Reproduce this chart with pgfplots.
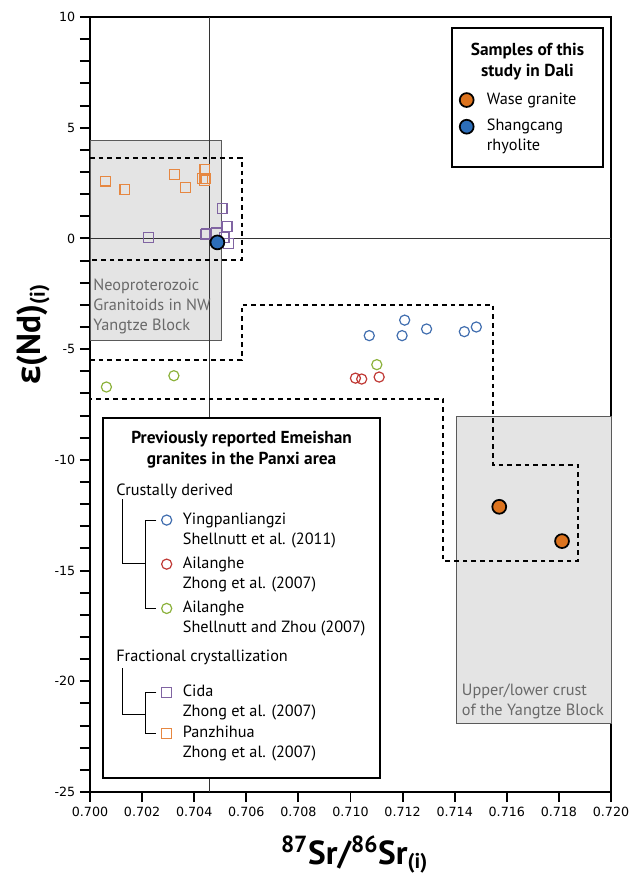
\documentclass[border=0pt]{standalone}
\usepackage{fontspec}
\setmainfont{PT Sans}
\newfontfamily\tickfont{DejaVu Sans}
\newfontfamily\grkfont{Open Sans}
\usepackage{pgfplots}
\pgfplotsset{compat=1.18}

\definecolor{cblue}{RGB}{65,110,175}
\definecolor{cred}{RGB}{192,57,53}
\definecolor{cgreen}{RGB}{140,178,60}
\definecolor{cpurple}{RGB}{128,100,162}
\definecolor{corange}{RGB}{230,135,65}
\definecolor{wase}{RGB}{220,115,30}
\definecolor{shang}{RGB}{45,110,185}
\definecolor{boxgray}{RGB}{228,228,228}
\definecolor{boxedge}{RGB}{90,90,90}
\definecolor{txtgray}{RGB}{105,105,105}

\newcommand{\lfont}{\fontsize{12.2}{15}\selectfont}
\newcommand{\bfont}{\bfseries\fontsize{13}{15.5}\selectfont}

\begin{document}
\begin{tikzpicture}
\begin{axis}[
  scale only axis, width=390.75pt, height=581.25pt,
  xmin=0.700, xmax=0.720, ymin=-25, ymax=10,
  xtick={0.700,0.702,0.704,0.706,0.708,0.710,0.712,0.714,0.716,0.718,0.720},
  xticklabels={0.700,0.702,0.704,0.706,0.708,0.710,0.712,0.714,0.716,0.718,0.720},
  ytick={-25,-20,-15,-10,-5,0,5,10},
  yticklabels={-25,-20,-15,-10,-5,0,5,10},
  minor y tick num=4,
  tick align=outside, xtick pos=bottom, ytick pos=left,
  major tick length=7.5pt, minor tick length=7.5pt,
  every tick/.style={black, line width=1.4pt},
  axis line style={line width=1.5pt},
  ticklabel style={font=\tickfont\fontsize{9.5}{10}\selectfont},
  xlabel={\bfseries\fontsize{25}{28}\selectfont\textsuperscript{87}Sr/\textsuperscript{86}Sr\raisebox{-0.25ex}{\fontsize{16}{16}\selectfont(i)}},
  ylabel={\bfseries\fontsize{25}{28}\selectfont{\grkfont ε}(Nd)\raisebox{-0.25ex}{\fontsize{16}{16}\selectfont(i)}},
  xlabel style={at={(axis description cs:0.507,-0.081)}, anchor=center},
  ylabel style={at={(axis description cs:-0.109,0.59)}, anchor=center, rotate=0},
  clip=false,
]
% grey fields
\addplot[fill=boxgray, draw=boxedge, line width=0.7pt] coordinates {(0.700,-4.59)(0.70505,-4.59)(0.70505,4.44)(0.700,4.44)} -- cycle;
\addplot[fill=boxgray, draw=boxedge, line width=0.7pt] coordinates {(0.71407,-21.9)(0.720,-21.9)(0.720,-8.02)(0.71407,-8.02)} -- cycle;
% reference lines
\addplot[draw=black!80, line width=0.75pt] coordinates {(0.70457,-25)(0.70457,10)};
\addplot[draw=black!80, line width=0.75pt] coordinates {(0.700,0)(0.720,0)};
% dashed fields
\addplot[black, line width=1.4pt, dash pattern=on 3.5pt off 3pt] coordinates {(0.700,3.65)(0.70582,3.65)(0.70582,-0.98)(0.700,-0.98)};
\addplot[black, line width=1.4pt, dash pattern=on 3.5pt off 3pt] coordinates {(0.700,-5.5)(0.70582,-5.5)(0.70582,-3.0)(0.71548,-3.0)(0.71548,-10.23)(0.71873,-10.23)(0.71873,-14.57)(0.71356,-14.57)(0.71356,-7.25)(0.700,-7.25)};
% field labels
\node[anchor=west, align=left, text=txtgray, font=\lfont, inner sep=0pt] at (axis cs:0.70012,-3.08) {Neoproterozoic\\Granitoids in NW\\Yangtze Block};
\node[anchor=west, align=left, text=txtgray, font=\lfont, inner sep=0pt] at (axis cs:0.71427,-20.91) {Upper/lower crust\\of the Yangtze Block};
% data
\addplot[only marks, mark=square, mark size=3.7pt, color=corange, mark options={line width=0.9pt}] coordinates {(0.70060,2.59)(0.70134,2.20)(0.70324,2.90)(0.70367,2.29)(0.70441,3.10)(0.70431,2.72)(0.70440,2.61)(0.70445,2.70)};
\addplot[only marks, mark=square, mark size=3.7pt, color=cpurple, mark options={line width=0.9pt}] coordinates {(0.70224,0.03)(0.70507,1.36)(0.70526,0.55)(0.70448,0.20)(0.70442,0.18)(0.70486,0.25)(0.70515,0.05)(0.70531,-0.22)};
\addplot[only marks, mark=o, mark size=3.8pt, color=cblue, mark options={line width=0.9pt}] coordinates {(0.71072,-4.39)(0.71208,-3.69)(0.71198,-4.39)(0.71292,-4.09)(0.71437,-4.21)(0.71483,-4.00)};
\addplot[only marks, mark=o, mark size=3.8pt, color=cred, mark options={line width=0.9pt}] coordinates {(0.71019,-6.31)(0.71043,-6.35)(0.71110,-6.26)};
\addplot[only marks, mark=o, mark size=3.8pt, color=cgreen, mark options={line width=0.9pt}] coordinates {(0.70063,-6.71)(0.70322,-6.20)(0.71101,-5.70)};
\addplot[only marks, mark=*, mark size=5.2pt, mark options={fill=wase, draw=black, line width=1.3pt}] coordinates {(0.71571,-12.12)(0.71812,-13.67)};
\addplot[only marks, mark=*, mark size=5.2pt, mark options={fill=shang, draw=black, line width=1.3pt}] coordinates {(0.70489,-0.18)};
% legend box 1
\addplot[fill=white, draw=black, line width=1.5pt] coordinates {(0.713896,3.225)(0.719693,3.225)(0.719693,9.503)(0.713896,9.503)} -- cycle;
\node[align=center, font=\bfont] at (axis cs:0.716795,7.98) {Samples of this\\study in Dali};
\node[anchor=west, font=\lfont, inner sep=0pt] at (axis cs:0.715228,6.25) {Wase granite};
\node[anchor=west, align=left, font=\lfont, inner sep=0pt] at (axis cs:0.715228,4.594) {Shangcang\\rhyolite};
\addplot[only marks, mark=*, mark size=5.2pt, mark options={fill=wase, draw=black, line width=1.3pt}] coordinates {(0.714461,6.25)};
\addplot[only marks, mark=*, mark size=5.2pt, mark options={fill=shang, draw=black, line width=1.3pt}] coordinates {(0.714461,5.045)};
% legend box 2
\addplot[fill=white, draw=black, line width=1.5pt] coordinates {(0.70051,-24.359)(0.711132,-24.359)(0.711132,-8.126)(0.70051,-8.126)} -- cycle;
\node[align=center, font=\bfont] at (axis cs:0.70582,-9.54) {Previously reported Emeishan\\granites in the Panxi area};
\node[anchor=west, font=\lfont, inner sep=0pt] at (axis cs:0.70100,-11.41) {Crustally derived};
\node[anchor=west, align=left, font=\lfont, inner sep=0pt] at (axis cs:0.703555,-13.17) {Yingpanliangzi\\Shellnutt et al. (2011)};
\node[anchor=west, align=left, font=\lfont, inner sep=0pt] at (axis cs:0.703555,-15.16) {Ailanghe\\Zhong et al. (2007)};
\node[anchor=west, align=left, font=\lfont, inner sep=0pt] at (axis cs:0.703555,-17.16) {Ailanghe\\Shellnutt and Zhou (2007)};
\node[anchor=west, font=\lfont, inner sep=0pt] at (axis cs:0.70100,-18.92) {Fractional crystallization};
\node[anchor=west, align=left, font=\lfont, inner sep=0pt] at (axis cs:0.703555,-20.97) {Cida\\Zhong et al. (2007)};
\node[anchor=west, align=left, font=\lfont, inner sep=0pt] at (axis cs:0.703555,-22.80) {Panzhihua\\Zhong et al. (2007)};
% tree lines
\addplot[black, line width=0.7pt] coordinates {(0.701255,-11.77)(0.701255,-14.70)(0.702111,-14.70)};
\addplot[black, line width=0.7pt] coordinates {(0.702550,-12.72)(0.702111,-12.72)(0.702111,-16.71)(0.702550,-16.71)};
\addplot[black, line width=0.7pt] coordinates {(0.701255,-19.40)(0.701255,-21.48)(0.702111,-21.48)};
\addplot[black, line width=0.7pt] coordinates {(0.702550,-20.52)(0.702111,-20.52)(0.702111,-22.35)(0.702550,-22.35)};
% legend markers
\addplot[only marks, mark=o, mark size=3.8pt, color=cblue, mark options={line width=0.9pt}] coordinates {(0.702944,-12.72)};
\addplot[only marks, mark=o, mark size=3.8pt, color=cred, mark options={line width=0.9pt}] coordinates {(0.702944,-14.71)};
\addplot[only marks, mark=o, mark size=3.8pt, color=cgreen, mark options={line width=0.9pt}] coordinates {(0.702944,-16.71)};
\addplot[only marks, mark=square, mark size=3.7pt, color=cpurple, mark options={line width=0.9pt}] coordinates {(0.702944,-20.52)};
\addplot[only marks, mark=square, mark size=3.7pt, color=corange, mark options={line width=0.9pt}] coordinates {(0.702944,-22.35)};
\end{axis}
\pgfresetboundingbox
\path[use as bounding box] (current axis.south west) ++(-67.5pt,-62.25pt) rectangle ++(474pt,656.25pt);
\end{tikzpicture}
\end{document}
